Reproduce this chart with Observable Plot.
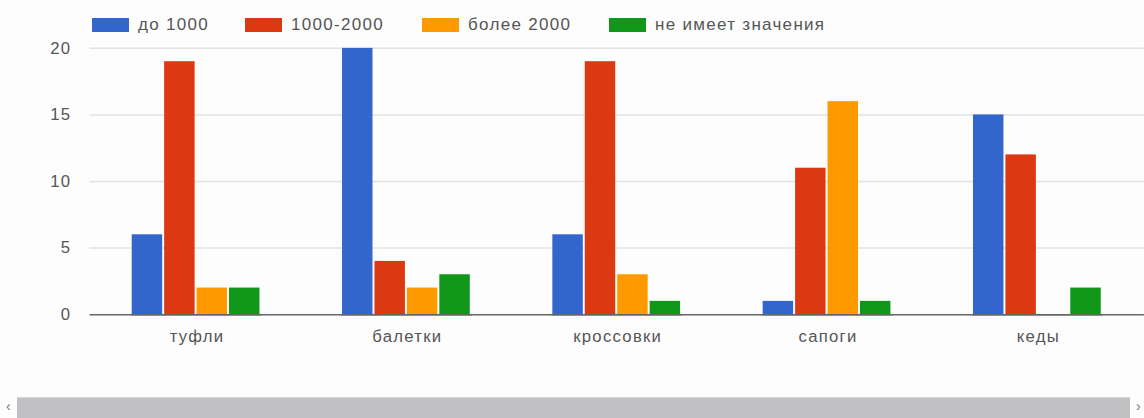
<!DOCTYPE html>
<html>
<head>
<meta charset="utf-8">
<script src="https://cdn.jsdelivr.net/npm/d3@7"></script>
<script src="https://cdn.jsdelivr.net/npm/@observablehq/plot@0.6"></script>
<style>
  html, body { margin: 0; padding: 0; background: #fdfdfd; }
  body { width: 1144px; height: 418px; overflow: hidden; position: relative;
         font-family: "Liberation Sans", Arial, sans-serif; color: #555; }
  #legend { height: 40px; position: relative; }
  .item { position: absolute; top: 15px; display: flex; align-items: center; font-size: 17px; letter-spacing: 1.3px; white-space: nowrap; }
  .sw { width: 37px; height: 14px; margin-right: 9px; }
  #chart { width: 1144px; height: 355px; overflow: hidden; position: relative; }
  #chart svg { position: absolute; left: 0; top: 0; }
  #scroll { position: absolute; left: 17px; top: 397px; width: 1113px; height: 21px;
            background: #c1c0c3; border-top: 1px solid #d6d5d8; box-sizing: border-box; }
  .arrow { position: absolute; top: 398px; font-size: 14px; color: #777; }
</style>
</head>
<body>
<div id="legend"></div>
<div id="chart"></div>
<div id="scroll"></div>
<div class="arrow" style="left:6px">‹</div>
<div class="arrow" style="left:1136px">›</div>
<script>
const categories = ["туфли", "балетки", "кроссовки", "сапоги", "кеды"];
const seriesNames = ["до 1000", "1000-2000", "более 2000", "не имеет значения"];
const seriesColors = ["#3366cc", "#dc3912", "#ff9900", "#109618"];
const under1000 = [6, 20, 6, 1, 15];
const from1000to2000 = [19, 4, 19, 11, 12];
const over2000 = [2, 2, 3, 16, 0];
const noMatter = [2, 3, 1, 1, 2];
const yTicks = [0, 5, 10, 15, 20];

const seriesValues = [under1000, from1000to2000, over2000, noMatter];
const data = [];
categories.forEach((c, i) => {
  seriesNames.forEach((s, j) => data.push({category: c, series: s, value: seriesValues[j][i]}));
});

// legend
const legendLefts = [92, 245, 422, 609];
const legend = document.getElementById("legend");
seriesNames.forEach((s, j) => {
  const it = document.createElement("div");
  it.className = "item";
  it.style.left = legendLefts[j] + "px";
  it.innerHTML = `<span class="sw" style="background:${seriesColors[j]}"></span><span>${s}</span>`;
  legend.appendChild(it);
});

const common = {
  width: 1164,
  height: 355,
  marginLeft: 91,
  marginRight: 0,
  marginTop: 8,
  marginBottom: 76,
  style: {fontSize: "17px", letterSpacing: "1.3px", fontFamily: "'Liberation Sans', Arial, sans-serif", color: "#555", background: "transparent"}
};
const bandOpts = {domain: categories, paddingInner: 0.38, paddingOuter: 0.19};
const yOpts = {domain: [0, 20], ticks: yTicks, tickSize: 0, tickPadding: 19, label: null};

// background: axes, grid, baseline
const back = Plot.plot({
  ...common,
  x: {...bandOpts, label: null},
  y: yOpts,
  marks: [
    Plot.ruleY(yTicks.filter(d => d > 0), {stroke: "#e2e2e2", strokeWidth: 1.5}),
    Plot.ruleY([0], {stroke: "#666", strokeWidth: 1.5}),
    Plot.axisX(categories, {tickSize: 0, tickPadding: 16, label: null}),
    Plot.axisY(yTicks, {tickSize: 0, tickPadding: 19, label: null})
  ]
});

// foreground: grouped bars through facets
const front = Plot.plot({
  ...common,
  fx: {...bandOpts, axis: null, label: null},
  x: {domain: seriesNames, paddingInner: 0.06, paddingOuter: 0, axis: null},
  y: {...yOpts, axis: null},
  color: {domain: seriesNames, range: seriesColors},
  marks: [
    Plot.barY(data, {fx: "category", x: "series", y: "value", fill: "series"}),
    Plot.ruleY([0], {stroke: "#666", strokeWidth: 1.5})
  ]
});
const chartDiv = document.getElementById("chart");
chartDiv.appendChild(back);
chartDiv.appendChild(front);
</script>
</body>
</html>
